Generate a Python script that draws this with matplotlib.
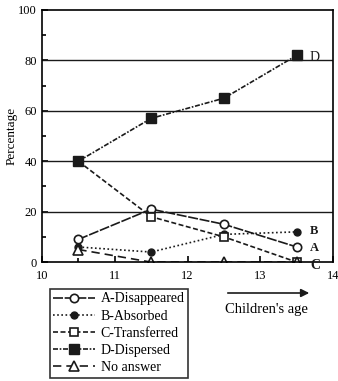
import matplotlib
matplotlib.use('Agg')
import matplotlib.pyplot as plt

plt.rcParams['font.family'] = ['Liberation Serif', 'DejaVu Serif']

ages = [10.5, 11.5, 12.5, 13.5]
disappeared = [9, 21, 15, 6]
absorbed = [6, 4, 11, 12]
transferred = [40, 18, 10, 0]
dispersed = [40, 57, 65, 82]
no_answer = [5, 0, 0, 0]

fig = plt.figure(figsize=(3.38, 3.81), dpi=100)
ax = fig.add_axes([0.124, 0.312, 0.862, 0.662])

c = '#1a1a1a'
ax.plot(ages, disappeared, color=c, lw=1.2, ls=(0, (6, 1)), marker='o', mfc='white', mec=c, mew=1.2, ms=6, label='A-Disappeared')
ax.plot(ages, absorbed, color=c, lw=1.2, ls=(0, (1, 1.5)), marker='o', mfc=c, mec=c, ms=5, label='B-Absorbed')
ax.plot(ages, transferred, color=c, lw=1.2, ls=(0, (3, 1.5)), marker='s', mfc='white', mec=c, mew=1.2, ms=6, label='C-Transferred')
ax.plot(ages, dispersed, color=c, lw=1.2, ls=(0, (3, 1, 1, 1)), marker='s', mfc=c, mec=c, ms=6.5, label='D-Dispersed')
ax.plot(ages, no_answer, color=c, lw=1.2, ls=(0, (5, 3)), marker='^', mfc='white', mec=c, mew=1.2, ms=7, label='No answer')

for y in [20, 40, 60, 80]:
    ax.axhline(y, color=c, lw=1)

ax.text(13.68, 81, 'D', fontsize=10, va='center', color=c)
ax.text(13.68, 12.5, 'B', fontsize=9, va='center', color=c, fontweight='bold')
ax.text(13.68, 5.5, 'A', fontsize=9, va='center', color=c, fontweight='bold')
ax.text(13.68, -1.5, 'C', fontsize=10, va='center', color=c, fontweight='bold')

ax.set_xlim(10, 14)
ax.set_ylim(0, 100)
ax.set_xticks([10, 11, 12, 13, 14])
ax.set_xticks([10.5, 11.5, 12.5, 13.5], minor=True)
ax.set_yticks([0, 20, 40, 60, 80, 100])
ax.set_yticks([10, 30, 50, 70, 90], minor=True)
ax.tick_params(labelsize=9, direction='in', length=4, width=1.2)
ax.tick_params(axis='x', pad=6)
ax.tick_params(which='minor', direction='in', length=3, width=1.2)
ax.set_ylabel('Percentage', fontsize=9.5)
ax.yaxis.set_label_coords(-0.085, 0.5)
for s in ax.spines.values():
    s.set_linewidth(1.2)

leg = fig.legend(loc='upper left', bbox_to_anchor=(0.148, 1 - 289 / 381), fontsize=10, frameon=True,
                 fancybox=False, edgecolor='black', handlelength=3, borderpad=0.25,
                 labelspacing=0.3, handletextpad=0.4, borderaxespad=0)
leg.get_frame().set_linewidth(1.2)

fig.patches.append(matplotlib.patches.FancyArrowPatch((225 / 338, 1 - 293 / 381), (312 / 338, 1 - 293 / 381),
                   transform=fig.transFigure, arrowstyle='-|>', mutation_scale=12, color=c, lw=1.2))
fig.text(266 / 338, 1 - 309 / 381, "Children's age", ha='center', va='center', fontsize=10.5)

fig.savefig('out.png', dpi=100)
